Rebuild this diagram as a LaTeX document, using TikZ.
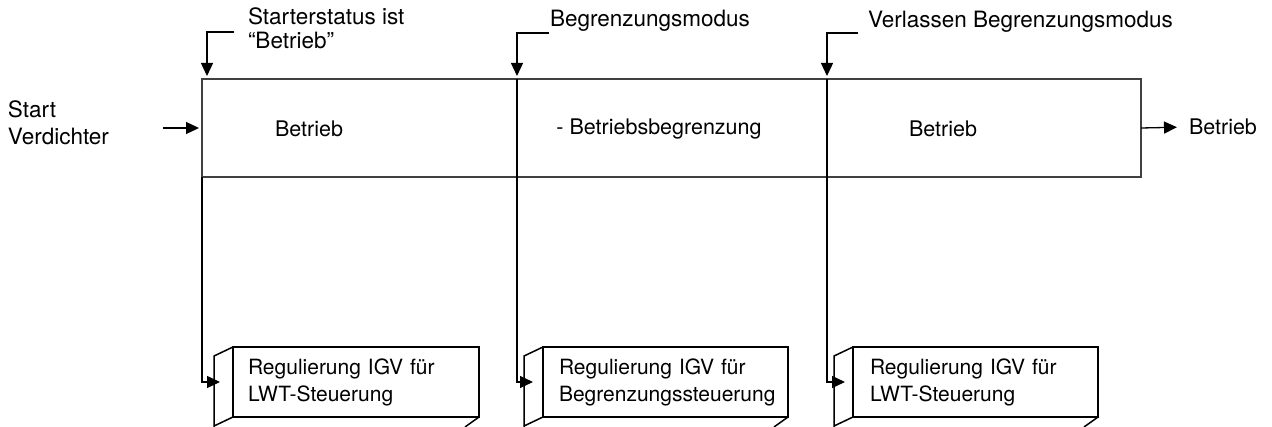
\documentclass[tikz,border=0pt]{standalone}
\usepackage{fontspec}
\setmainfont{TeX Gyre Heros}
\usetikzlibrary{arrows.meta}
\begin{document}
\begin{tikzpicture}[x=1pt,y=-1pt,
  txt/.style={inner sep=0pt, outer sep=0pt, font=\fontsize{21.5}{24}\selectfont},
  note/.style={inner sep=0pt, outer sep=0pt, font=\fontsize{22.5}{24}\selectfont},
  phase/.style={draw=black!75, line width=1.6pt, inner sep=0pt, outer sep=0pt,
    minimum height=98pt, anchor=north west},
  proc/.style={draw=black, line width=1.5pt, inner xsep=15pt, inner ysep=0pt, outer sep=0pt,
    minimum height=70pt, text width=216pt, align=left, anchor=north west,
    font=\fontsize{21}{27}\selectfont},
  face/.style={draw=black, line width=1.5pt},
  conn/.style={draw=black, line width=1.3pt},
  tip/.style={-{Triangle[length=13pt,width=12pt]}}
]
\useasboundingbox (0,0) rectangle (1272,427);
\clip (0,0) rectangle (1272,427);

% operating phases of the compressor
\node[phase, minimum width=315pt] (s1) at (202,79) {};
\node[phase, minimum width=310pt] (s2) at (517,79) {};
\node[phase, minimum width=314pt] (s3) at (827,79) {};
\node[txt] (b1) at (309,129) {Betrieb};
\node[txt] (b2) at (659,129) {- Betriebsbegrenzung};
\node[txt] (b3) at (943,129) {Betrieb};

% events above the phases (base anchor = last line)
\node[note, anchor=base west, align=left] (e1) at (248,49) {Starterstatus ist\\“Betrieb”};
\node[note, anchor=base west] (e2) at (550,27) {Begrenzungsmodus};
\node[note, anchor=base west] (e3) at (868,28) {Verlassen Begrenzungsmodus};
\coordinate (l1) at (234,32);
\coordinate (l2) at (549,33);
\coordinate (l3) at (858,33);
\draw[conn,tip,shorten >=3pt] (l1) -| ([xshift=5pt]s1.north west);
\draw[conn,tip,shorten >=3pt] (l2) -| (s2.north west);
\draw[conn,tip,shorten >=3pt] (l3) -| (s3.north west);

% input and output
\node[note, anchor=base west, align=left, font=\fontsize{22.5}{27}\selectfont] (start) at (8,145) {Start\\Verdichter};
\coordinate (in) at (163,128);
\draw[conn,tip,shorten >=3pt] (in) -- (in -| s1.west);
\node[txt, anchor=west] (out) at (1189,127) {Betrieb};
\draw[conn,tip,shorten >=12pt] (s3.east) -- (out.west);

% IGV control blocks
\node[proc] (p1) at (233,347) {Regulierung IGV für\\LWT-Steuerung};
\node[proc, inner xsep=16pt, text width=213pt] (p2) at (543,347) {Regulierung IGV für\\Begrenzungssteuerung};
\node[proc, inner xsep=17pt, text width=211pt] (p3) at (853,347) {Regulierung IGV für\\LWT-Steuerung};
\foreach \p in {p1,p2,p3} {
  \draw[face] (\p.north west) -- ++(-19,9) -- ++(0,90);
  \draw[face] (\p.south west) -- ++(-19,9);
  \draw[face] (\p.south east) -- ++(-14,10);
}

% phase boundaries down to the control blocks
\draw[conn,tip] (s1.south west) |- ([xshift=-13pt]p1.west);
\draw[conn,tip] (s2.north west) -- (s2.south west) |- ([xshift=-10pt]p2.west);
\draw[conn,tip] (s3.north west) -- (s3.south west) |- ([xshift=-8pt]p3.west);
\end{tikzpicture}
\end{document}
